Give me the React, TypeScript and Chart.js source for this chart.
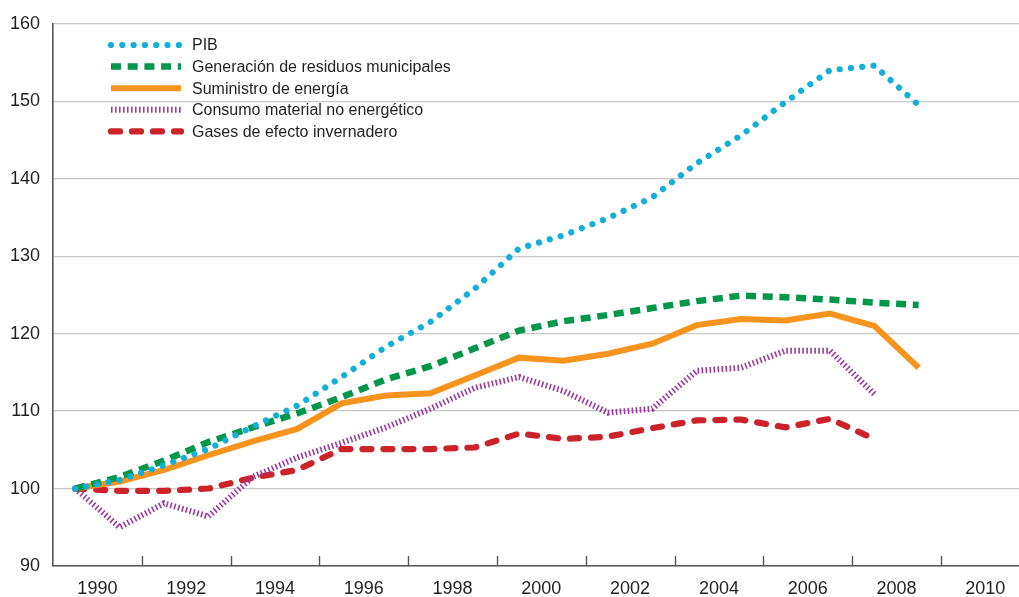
import React, { useEffect, useRef } from 'react';
import { Chart, registerables } from 'chart.js';

Chart.register(...registerables);

const years = [1990, 1991, 1992, 1993, 1994, 1995, 1996, 1997, 1998, 1999, 2000, 2001, 2002, 2003, 2004, 2005, 2006, 2007, 2008, 2009];

const pib = [100, 101.1, 103.0, 105.1, 108.0, 110.7, 114.4, 118.3, 121.5, 125.8, 131.0, 132.7, 134.9, 137.6, 142.0, 145.6, 149.9, 154.0, 154.6, 149.5];
const residuos = [100, 101.5, 103.6, 106.0, 107.9, 109.7, 111.8, 114.1, 115.8, 118.1, 120.4, 121.6, 122.4, 123.3, 124.2, 124.9, 124.7, 124.4, 124.0, 123.7];
const energia = [100, 100.9, 102.4, 104.3, 106.1, 107.7, 111.0, 112.0, 112.3, 114.6, 116.9, 116.5, 117.4, 118.7, 121.1, 121.9, 121.7, 122.6, 121.0, 115.6];
const consumo = [100, 95.0, 98.1, 96.4, 101.5, 104.0, 105.9, 107.9, 110.3, 113.0, 114.4, 112.6, 109.8, 110.3, 115.2, 115.6, 117.8, 117.8, 112.2, null];
const gases = [100, 99.7, 99.7, 100.0, 101.4, 102.4, 105.1, 105.1, 105.1, 105.3, 107.1, 106.4, 106.7, 107.8, 108.8, 108.9, 107.9, 109.0, 106.4, null];

const seriesNames = [
  'PIB',
  'Generación de residuos municipales',
  'Suministro de energía',
  'Consumo material no energético',
  'Gases de efecto invernadero',
];

const xTickLabels = ['1990', '1992', '1994', '1996', '1998', '2000', '2002', '2004', '2006', '2008', '2010'];
const yTicks = [90, 100, 110, 120, 130, 140, 150, 160];

const FONT = '"Liberation Sans", Arial, Helvetica, sans-serif';
const TEXT = '#231f20';
const AXIS = '#555555';

const toPoints = (vals: (number | null)[]) =>
  years.map((y, i) => ({ x: y, y: vals[i] })).filter((p) => p.y !== null);

const legendPlugin = {
  id: 'customLegend',
  afterDraw(chart: any) {
    const ctx = chart.ctx;
    const x0 = 111;
    const x1 = 181;
    const tx = 192;
    const y0 = 45;
    const step = 21.6;
    ctx.save();
    chart.data.datasets.forEach((ds: any, i: number) => {
      const y = y0 + i * step;
      ctx.beginPath();
      ctx.strokeStyle = ds.borderColor;
      ctx.lineWidth = ds.borderWidth;
      ctx.lineCap = ds.borderCapStyle || 'butt';
      ctx.setLineDash(ds.borderDash || []);
      ctx.lineDashOffset = 0;
      ctx.moveTo(x0, y);
      ctx.lineTo(x1, y);
      ctx.stroke();
      ctx.setLineDash([]);
      ctx.fillStyle = TEXT;
      ctx.font = `16px ${FONT}`;
      ctx.textAlign = 'left';
      ctx.textBaseline = 'middle';
      ctx.fillText(ds.label, tx, y + 1);
    });
    ctx.restore();
  },
};

const tickMarkPlugin = {
  id: 'tickMarks',
  afterDraw(chart: any) {
    const xs = chart.scales.x;
    const ctx = chart.ctx;
    const bottom = chart.chartArea.bottom;
    ctx.save();
    ctx.strokeStyle = AXIS;
    ctx.lineWidth = 1.4;
    for (let i = 0; i < xTickLabels.length - 1; i++) {
      const v = Number(xTickLabels[i]) + 1.5;
      const px = Math.round(xs.getPixelForValue(v)) + 0.5;
      ctx.beginPath();
      ctx.moveTo(px, bottom - 10);
      ctx.lineTo(px, bottom);
      ctx.stroke();
    }
    ctx.restore();
  },
};

export default function App() {
  const ref = useRef<HTMLCanvasElement | null>(null);

  useEffect(() => {
    if (!ref.current) return;
    const chart = new Chart(ref.current, {
      type: 'line',
      data: {
        datasets: [
          {
            label: seriesNames[0],
            data: toPoints(pib),
            borderColor: '#12afd8',
            borderWidth: 6.2,
            borderDash: [0.01, 11.3],
            borderCapStyle: 'round',
            pointRadius: 0,
            tension: 0,
          },
          {
            label: seriesNames[1],
            data: toPoints(residuos),
            borderColor: '#00964b',
            borderWidth: 6.5,
            borderDash: [10, 6.7],
            borderCapStyle: 'butt',
            pointRadius: 0,
            tension: 0,
          },
          {
            label: seriesNames[2],
            data: toPoints(energia),
            borderColor: '#f7941e',
            borderWidth: 6,
            borderCapStyle: 'butt',
            borderJoinStyle: 'miter',
            pointRadius: 0,
            tension: 0,
          },
          {
            label: seriesNames[3],
            data: toPoints(consumo),
            borderColor: '#9b3a9e',
            borderWidth: 6,
            borderDash: [1.6, 2.4],
            borderCapStyle: 'butt',
            pointRadius: 0,
            tension: 0,
          },
          {
            label: seriesNames[4],
            data: toPoints(gases),
            borderColor: '#cc2229',
            borderWidth: 6.2,
            borderDash: [9, 12],
            borderCapStyle: 'round',
            pointRadius: 0,
            tension: 0,
          },
        ] as any,
      },
      options: {
        animation: false,
        responsive: true,
        maintainAspectRatio: false,
        layout: { padding: { top: 21, right: 0, bottom: 0, left: 0 } },
        plugins: {
          legend: { display: false },
          tooltip: { enabled: false },
        },
        scales: {
          x: {
            type: 'linear',
            min: 1989.5,
            max: 2011.26,
            afterFit: (scale: any) => {
              scale.height = 31;
            },
            afterBuildTicks: (scale: any) => {
              scale.ticks = xTickLabels.map((l) => ({ value: Number(l) + 0.5 }));
            },
            grid: { display: true, drawOnChartArea: false, drawTicks: false },
            border: { display: true, color: AXIS, width: 1.6 },
            ticks: {
              autoSkip: false,
              maxRotation: 0,
              padding: 12,
              color: TEXT,
              font: { family: FONT, size: 18 },
              callback: (v: any) => {
                const idx = xTickLabels.findIndex((l) => Number(l) + 0.5 === Number(v));
                return idx >= 0 ? xTickLabels[idx] : '';
              },
            },
          },
          y: {
            min: 90,
            max: 160,
            afterFit: (scale: any) => {
              scale.width = 53;
            },
            afterBuildTicks: (scale: any) => {
              scale.ticks = yTicks.map((v) => ({ value: v }));
            },
            grid: { color: '#c8c8c8', lineWidth: 1.3, drawTicks: false },
            border: { display: true, color: AXIS, width: 1.6 },
            ticks: {
              padding: 13,
              color: TEXT,
              font: { family: FONT, size: 18 },
            },
          },
        },
      } as any,
      plugins: [legendPlugin, tickMarkPlugin],
    });
    return () => chart.destroy();
  }, []);

  return (
    <div style={{ position: 'absolute', left: 0, top: 0, width: 1019, height: 597, background: '#fff' }}>
      <canvas ref={ref} />
    </div>
  );
}
